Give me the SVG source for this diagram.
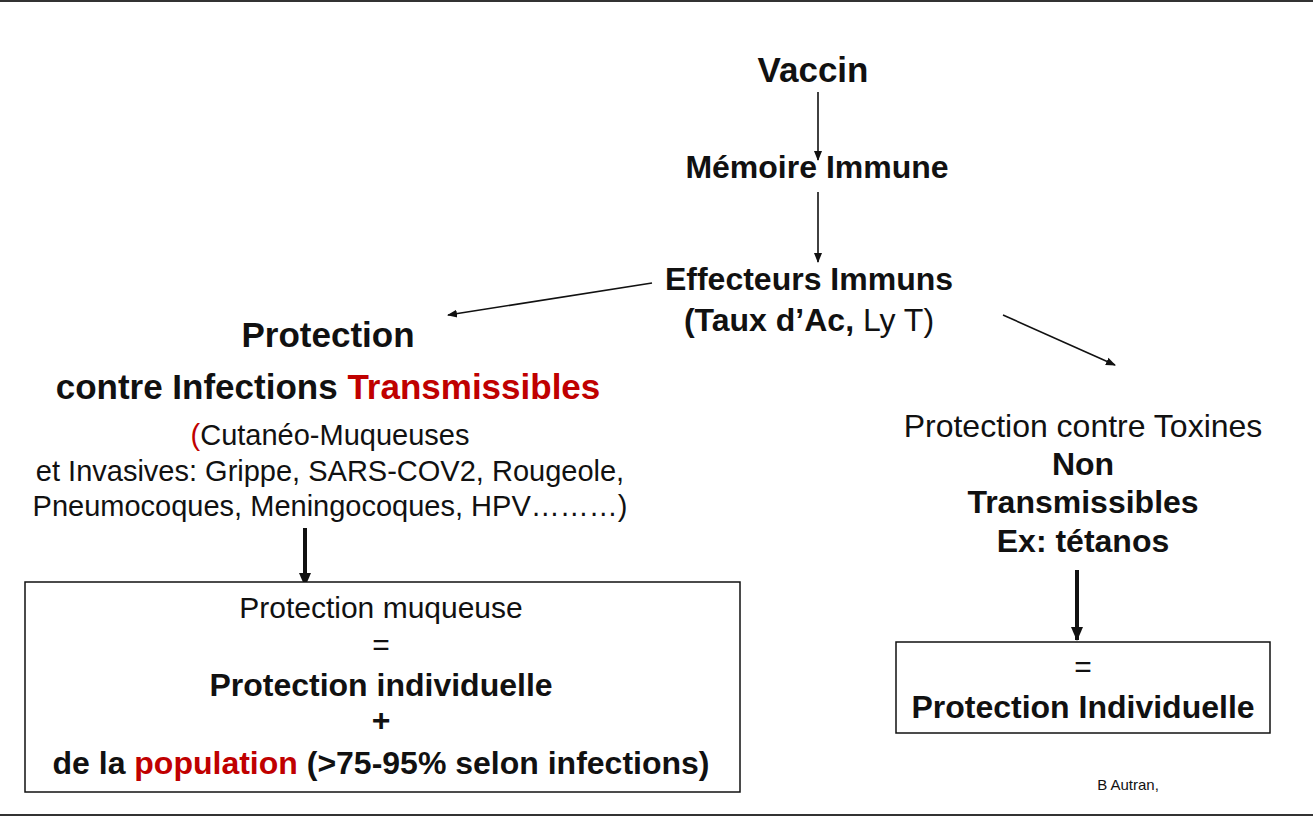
<svg xmlns="http://www.w3.org/2000/svg" width="1313" height="819" viewBox="0 0 1313 819">
<style>
text{font-family:"Liberation Sans",Arial,sans-serif;fill:#111;text-anchor:middle}
.b{font-weight:bold}
.r{fill:#c00000}
.c{stroke:#111;stroke-width:1.6;fill:none}
.t{stroke:#111;stroke-width:4;fill:none}
.box{fill:#fff;stroke:#111;stroke-width:1.5}
</style>
<defs>
<marker id="a" markerWidth="10" markerHeight="10" refX="9" refY="5" orient="auto" markerUnits="userSpaceOnUse"><path d="M0,1 L10,5 L0,9 Z" fill="#111"/></marker>
<marker id="at" markerWidth="14" markerHeight="14" refX="13" refY="7" orient="auto" markerUnits="userSpaceOnUse"><path d="M0,1 L14,7 L0,13 Z" fill="#111"/></marker>
</defs>
<rect width="1313" height="819" fill="#fff"/>
<line x1="0" y1="1" x2="1313" y2="1" stroke="#333" stroke-width="2"/>
<line x1="0" y1="815" x2="1313" y2="815" stroke="#333" stroke-width="2"/>
<g id="connectors">
<line class="c" x1="818" y1="92" x2="818" y2="160" marker-end="url(#a)"/>
<line class="c" x1="818" y1="192" x2="818" y2="262" marker-end="url(#a)"/>
<line class="c" x1="652" y1="283" x2="448" y2="315" marker-end="url(#a)"/>
<line class="c" x1="1003" y1="315" x2="1115" y2="365" marker-end="url(#a)"/>
<line class="t" x1="305" y1="528" x2="305" y2="586" marker-end="url(#at)"/>
<line class="t" x1="1077" y1="570" x2="1077" y2="640" marker-end="url(#at)"/>
</g>
<g id="vaccin"><text x="813" y="82" class="b" font-size="35">Vaccin</text></g>
<g id="memoire"><text x="817" y="178" class="b" font-size="32">Mémoire Immune</text></g>
<g id="effecteurs"><text x="809" y="290" class="b" font-size="32">Effecteurs Immuns</text>
<text x="809" y="331" font-size="32"><tspan class="b">(Taux d’Ac,</tspan> Ly T)</text></g>
<g id="protection-transmissibles">
<text x="328" y="347" class="b" font-size="35">Protection</text>
<text x="328" y="399" class="b" font-size="35">contre Infections <tspan class="r">Transmissibles</tspan></text>
<text x="330" y="445" font-size="29"><tspan class="r">(</tspan>Cutanéo-Muqueuses</text>
<text x="330" y="481" font-size="29">et Invasives: Grippe, SARS-COV2, Rougeole,</text>
<text x="330" y="516" font-size="29">Pneumocoques, Meningocoques, HPV………)</text>
</g>
<g id="box-muqueuse">
<rect class="box" x="25" y="582" width="715" height="210"/>
<text x="381" y="618" font-size="30">Protection muqueuse</text>
<text x="381" y="655" font-size="30">=</text>
<text x="381" y="696" class="b" font-size="32">Protection individuelle</text>
<text x="381" y="731" class="b" font-size="32">+</text>
<text x="381" y="774" class="b" font-size="32">de la <tspan class="r">population</tspan> (&gt;75-95% selon infections)</text>
</g>
<g id="protection-toxines">
<text x="1083" y="437" font-size="32">Protection contre Toxines</text>
<text x="1083" y="475" class="b" font-size="32">Non</text>
<text x="1083" y="513" class="b" font-size="32">Transmissibles</text>
<text x="1083" y="552" class="b" font-size="32">Ex: tétanos</text>
</g>
<g id="box-individuelle">
<rect class="box" x="896" y="642" width="374" height="91"/>
<text x="1083" y="677" font-size="30">=</text>
<text x="1083" y="718" class="b" font-size="32">Protection Individuelle</text>
</g>
<text x="1128" y="790" font-size="15">B Autran,</text>
</svg>
